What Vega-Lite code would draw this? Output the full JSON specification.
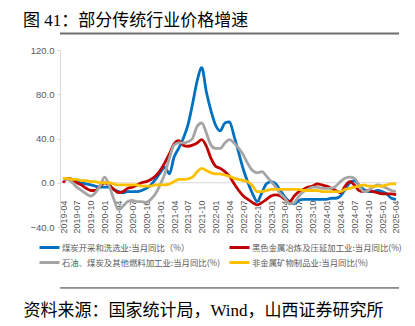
{
  "$schema": "https://vega.github.io/schema/vega-lite/v6.json",
  "width": 339,
  "height": 177,
  "autosize": {"type": "none"},
  "padding": {"left": 60, "top": 50, "right": 16, "bottom": 99},
  "background": "white",
  "config": {"view": {"stroke": null}, "font": "Liberation Sans"},
  "title": {"text": "图 41：部分传统行业价格增速", "anchor": "start", "frame": "group", "dx": -37, "offset": 3, "fontSize": 17, "font": "Liberation Serif, Noto Sans CJK SC", "fontWeight": "normal", "color": "#000000"},
  "layer": [
    {
      "data": {"values": [{}]},
      "mark": {"type": "rule", "color": "#d9d9d9", "strokeWidth": 1},
      "encoding": {"y": {"datum": 0, "type": "quantitative", "title": null}}
    },
    {
      "data": {"values": [{}]},
      "mark": {"type": "rule", "color": "#6f6f6f", "strokeWidth": 2, "clip": false},
      "encoding": {"y": {"datum": 134.9, "type": "quantitative", "title": null}}
    },
    {
      "data": {"values": [{}]},
      "mark": {"type": "rule", "color": "#333333", "strokeWidth": 1, "clip": false},
      "encoding": {"y": {"datum": -95.1, "type": "quantitative", "title": null}}
    },
    {
      "data": {"values": [
        {"m":"2019-04","a":4,"b":0,"c":3,"d":4},
        {"m":"2019-05","a":4,"b":4,"c":3,"d":4},
        {"m":"2019-06","a":3,"b":3,"c":0,"d":3},
        {"m":"2019-07","a":2,"b":0,"c":-4,"d":3},
        {"m":"2019-08","a":0,"b":-2,"c":-7,"d":2},
        {"m":"2019-09","a":-1,"b":-5,"c":-10,"d":2},
        {"m":"2019-10","a":-2,"b":-7,"c":-12,"d":1},
        {"m":"2019-11","a":-3,"b":-7,"c":-9,"d":1},
        {"m":"2019-12","a":-4,"b":-3,"c":-3,"d":0},
        {"m":"2020-01","a":-4,"b":0,"c":5,"d":0},
        {"m":"2020-02","a":-4,"b":-2,"c":-3,"d":0},
        {"m":"2020-03","a":-6,"b":-6,"c":-15,"d":-1},
        {"m":"2020-04","a":-8,"b":-9,"c":-24,"d":-2},
        {"m":"2020-05","a":-9,"b":-8,"c":-21,"d":-2},
        {"m":"2020-06","a":-8,"b":-5,"c":-17,"d":-2},
        {"m":"2020-07","a":-8,"b":-4,"c":-16,"d":-2},
        {"m":"2020-08","a":-8,"b":-2,"c":-17,"d":-2},
        {"m":"2020-09","a":-7,"b":0,"c":-17,"d":-3},
        {"m":"2020-10","a":-5,"b":1,"c":-18,"d":-3},
        {"m":"2020-11","a":-2,"b":3,"c":-15,"d":-3},
        {"m":"2020-12","a":3,"b":6,"c":-10,"d":-2},
        {"m":"2021-01","a":9,"b":11,"c":-2,"d":-2},
        {"m":"2021-02","a":14,"b":18,"c":8,"d":-2},
        {"m":"2021-03","a":8,"b":26,"c":22,"d":-1},
        {"m":"2021-04","a":23,"b":35,"c":34,"d":1},
        {"m":"2021-05","a":31,"b":38,"c":36,"d":3},
        {"m":"2021-06","a":40,"b":34,"c":36,"d":3},
        {"m":"2021-07","a":52,"b":33,"c":37,"d":3.5},
        {"m":"2021-08","a":71,"b":34,"c":40,"d":5},
        {"m":"2021-09","a":92,"b":36,"c":51,"d":10},
        {"m":"2021-10","a":104,"b":39,"c":54,"d":13},
        {"m":"2021-11","a":82,"b":33,"c":45,"d":11},
        {"m":"2021-12","a":65,"b":22,"c":34,"d":9},
        {"m":"2022-01","a":52,"b":15,"c":31,"d":8},
        {"m":"2022-02","a":47,"b":13,"c":31,"d":8},
        {"m":"2022-03","a":54,"b":10,"c":36,"d":7},
        {"m":"2022-04","a":55,"b":6,"c":39,"d":6},
        {"m":"2022-05","a":42,"b":-1,"c":36,"d":4},
        {"m":"2022-06","a":27,"b":-7,"c":31,"d":3},
        {"m":"2022-07","a":12,"b":-12,"c":25,"d":2},
        {"m":"2022-08","a":0,"b":-15,"c":17,"d":1},
        {"m":"2022-09","a":-10,"b":-18,"c":11,"d":-3},
        {"m":"2022-10","a":-17,"b":-20,"c":9,"d":-8},
        {"m":"2022-11","a":-9,"b":-18,"c":10,"d":-8},
        {"m":"2022-12","a":-1,"b":-15,"c":6,"d":-7},
        {"m":"2023-01","a":1,"b":-12,"c":1,"d":-6},
        {"m":"2023-02","a":-1,"b":-11,"c":-4,"d":-6},
        {"m":"2023-03","a":-7,"b":-12,"c":-10,"d":-6},
        {"m":"2023-04","a":-13,"b":-15,"c":-14,"d":-6},
        {"m":"2023-05","a":-17,"b":-17,"c":-19,"d":-6},
        {"m":"2023-06","a":-19,"b":-12,"c":-18,"d":-6},
        {"m":"2023-07","a":-16,"b":-8,"c":-12,"d":-6},
        {"m":"2023-08","a":-15,"b":-6,"c":-8,"d":-7},
        {"m":"2023-09","a":-15,"b":-4,"c":-6,"d":-7},
        {"m":"2023-10","a":-15,"b":-3,"c":-4,"d":-7},
        {"m":"2023-11","a":-15,"b":-1,"c":-4,"d":-7},
        {"m":"2023-12","a":-15,"b":-2,"c":-5,"d":-8},
        {"m":"2024-01","a":-15,"b":-3,"c":-5,"d":-8},
        {"m":"2024-02","a":-14,"b":-5,"c":-5,"d":-8},
        {"m":"2024-03","a":-14,"b":-7,"c":-3,"d":-8},
        {"m":"2024-04","a":-12,"b":-9,"c":1,"d":-8},
        {"m":"2024-05","a":-6,"b":-3,"c":4,"d":-6},
        {"m":"2024-06","a":0,"b":1,"c":5,"d":-5},
        {"m":"2024-07","a":2,"b":-2,"c":4,"d":-4},
        {"m":"2024-08","a":-2,"b":-7,"c":-2,"d":-3},
        {"m":"2024-09","a":-6,"b":-8,"c":-8,"d":-2},
        {"m":"2024-10","a":-8,"b":-7,"c":-7,"d":-3},
        {"m":"2024-11","a":-8,"b":-8,"c":-4,"d":-3},
        {"m":"2024-12","a":-7,"b":-9,"c":-2,"d":-3},
        {"m":"2025-01","a":-8,"b":-10,"c":-3,"d":-3},
        {"m":"2025-02","a":-10,"b":-10,"c":-5,"d":-2},
        {"m":"2025-03","a":-14,"b":-10,"c":-7,"d":-1},
        {"m":"2025-04","a":-15,"b":-11,"c":-8,"d":-1}
      ]},
      "transform": [{"fold": ["a", "b", "c", "d"], "as": ["s", "v"]}],
      "mark": {"type": "line", "strokeWidth": 2.8, "interpolate": "monotone"},
      "encoding": {
        "x": {
          "field": "m", "type": "ordinal",
          "scale": {"type": "point", "padding": 0.65},
          "axis": {
            "values": ["2019-04","2019-07","2019-10","2020-01","2020-04","2020-07","2020-10","2021-01","2021-04","2021-07","2021-10","2022-01","2022-04","2022-07","2022-10","2023-01","2023-04","2023-07","2023-10","2024-01","2024-04","2024-07","2024-10","2025-01","2025-04"],
            "labelAngle": -90, "labelFontSize": 9, "labelColor": "#595959", "labelFont": "Liberation Sans",
            "labelPadding": -27, "domain": false, "ticks": false, "grid": false, "labelOverlap": false, "labelBound": false,
            "title": "资料来源：国家统计局，Wind，山西证券研究所",
            "titleX": -37, "titleY": 83, "titleAlign": "left", "titleBaseline": "middle", "titleAngle": 0,
            "titleFontSize": 17, "titleFont": "Liberation Serif, Noto Sans CJK SC", "titleFontWeight": "normal", "titleColor": "#000000"
          }
        },
        "y": {
          "field": "v", "type": "quantitative",
          "scale": {"domain": [-40, 120], "nice": false, "zero": false},
          "axis": {
            "values": [-40, -20, 0, 20, 40, 60, 80, 100, 120], "format": ".1f", "title": null,
            "labelFontSize": 9.5, "labelColor": "#595959", "labelFont": "Liberation Sans", "labelPadding": 3,
            "domainColor": "#d9d9d9", "tickColor": "#d9d9d9", "tickSize": 3, "grid": false
          }
        },
        "color": {
          "field": "s", "type": "nominal",
          "scale": {"domain": ["a", "c", "b", "d"], "range": ["#0070C0", "#A5A5A5", "#C00000", "#FFC000"]},
          "legend": {
            "orient": "none", "legendX": -22, "legendY": 190, "columns": 2, "title": null, "padding": 0,
            "symbolType": "stroke", "symbolSize": 400, "symbolStrokeWidth": 3,
            "labelFontSize": 8.4, "labelFont": "Noto Sans CJK SC", "labelColor": "#595959", "labelLimit": 0,
            "columnPadding": 7, "rowPadding": 0, "clipHeight": 15, "labelOffset": 1,
            "labelExpr": "datum.label == 'a' ? '煤炭开采和洗选业:当月同比（%）' : datum.label == 'b' ? '黑色金属冶炼及压延加工业:当月同比(%)' : datum.label == 'c' ? '石油、煤炭及其他燃料加工业:当月同比(%)' : '非金属矿物制品业:当月同比(%)'"
          }
        }
      }
    }
  ]
}
